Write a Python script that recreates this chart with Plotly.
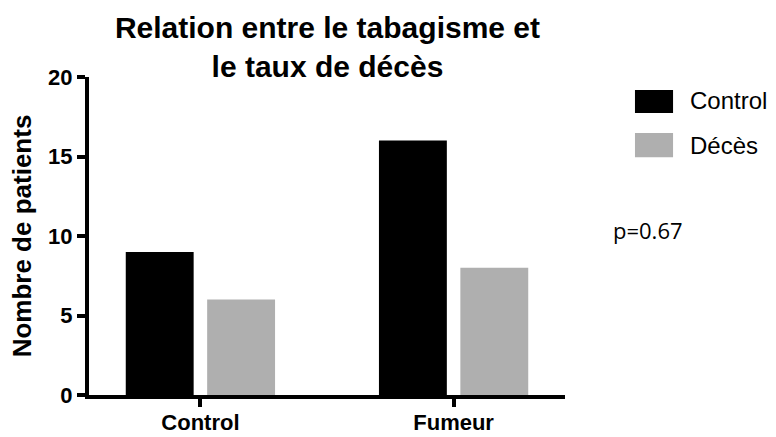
import plotly.graph_objects as go

categories = ["Control", "Fumeur"]
series_names = ["Control", "Décès"]
control_values = [9, 16]
deces_values = [6, 8]
y_ticks = [0, 5, 10, 15, 20]
colors = ["#000000", "#AFAFAF"]
p_text = "p=0.67"

FONT = "Liberation Sans, Arial, Helvetica"

fig = go.Figure()
for name, vals, col in zip(series_names, [control_values, deces_values], colors):
    fig.add_trace(go.Bar(x=categories, y=vals, name=name, marker_color=col,
                         marker_line_width=0, showlegend=False))

# legend drawn as decoration
box_y = [(0.887, 0.959), (0.748, 0.824)]
text_y = [0.925, 0.786]
for name, col, (y0, y1), ty in zip(series_names, colors, box_y, text_y):
    fig.add_shape(type="rect", xref="paper", yref="paper",
                  x0=1.147, x1=1.227, y0=y0, y1=y1,
                  fillcolor=col, line_width=0)
    fig.add_annotation(text=name, xref="paper", yref="paper", x=1.258, y=ty,
                       xanchor="left", yanchor="middle", showarrow=False,
                       font=dict(family=FONT, size=24, color="black"))

fig.add_annotation(text=p_text, xref="paper", yref="paper", x=1.097, y=0.519,
                   xanchor="left", yanchor="middle", showarrow=False,
                   font=dict(family="Open Sans, Liberation Sans", size=22, color="black"))

fig.update_layout(
    width=776, height=437,
    margin=dict(l=89, r=211, t=77, b=42, autoexpand=False),
    plot_bgcolor="white", paper_bgcolor="white",
    barmode="group", bargap=0.357, bargroupgap=0.166,
    title=dict(text="<b>Relation entre le tabagisme et<br>le taux de décès</b>",
               x=0.422, xanchor="center", y=0.912, yanchor="top",
               font=dict(family=FONT, size=30, color="black")),
    font=dict(family=FONT, color="black"),
)
fig.update_xaxes(range=[-0.44, 1.44], showline=True, linewidth=4, linecolor="black",
                 ticks="outside", ticklen=8, tickwidth=4, tickcolor="black",
                 tickfont=dict(size=22, family=FONT, color="black", weight="bold"),
                 ticklabelstandoff=-3,
                 showgrid=False, zeroline=False, automargin=False)
fig.update_yaxes(range=[0, 20], tickvals=y_ticks, showline=True, linewidth=4, linecolor="black",
                 ticks="outside", ticklen=8, tickwidth=4, tickcolor="black",
                 tickfont=dict(size=22, family=FONT, color="black", weight="bold"),
                 title=dict(text="<b>Nombre de patients</b>", standoff=10,
                            font=dict(size=26, family=FONT, color="black")),
                 showgrid=False, zeroline=False, automargin=False)

fig.write_html("out.html", config={"displayModeBar": False},
               post_script="document.body.style.margin='0';")
